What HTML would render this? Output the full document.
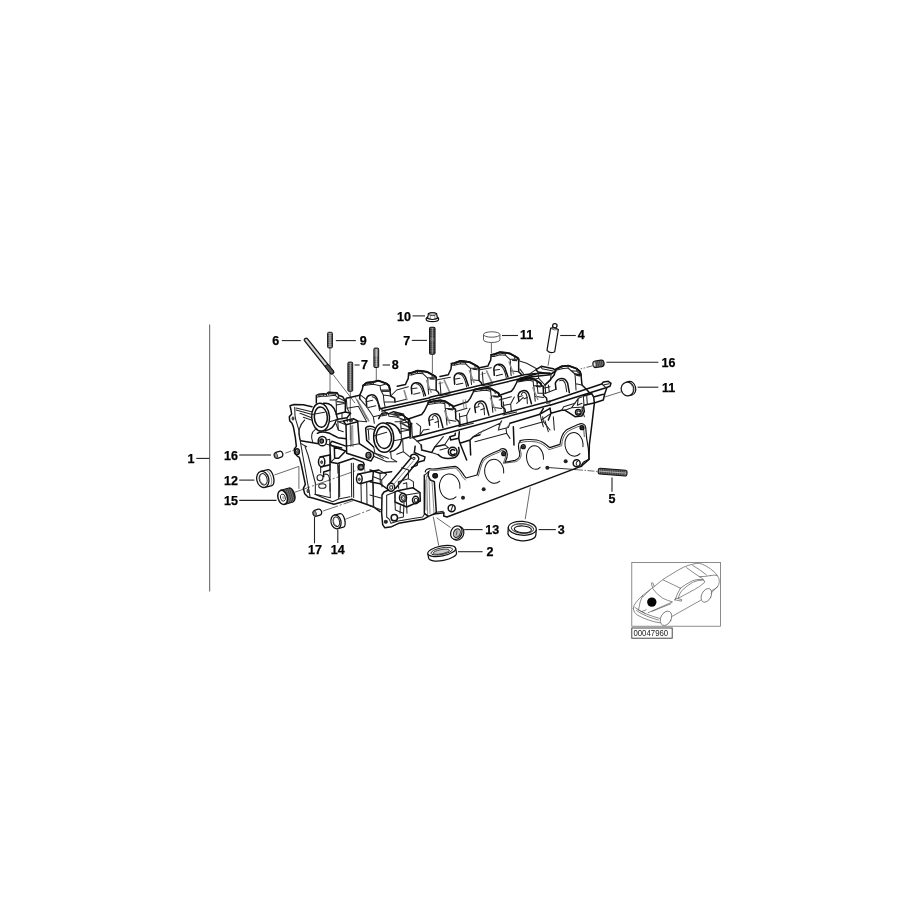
<!DOCTYPE html>
<html>
<head>
<meta charset="utf-8">
<title>Cylinder head</title>
<style>
html,body{margin:0;padding:0;background:#fff;}
body{width:900px;height:900px;overflow:hidden;font-family:"Liberation Sans",sans-serif;}
svg{display:block;position:absolute;left:0;top:0;filter:blur(.45px);}
.lb text{font-family:"Liberation Sans",sans-serif;font-weight:bold;font-size:12.5px;fill:#000;stroke:#000;stroke-width:.25px;}
.ld{stroke:#222;stroke-width:1.1;fill:none;}
.th{stroke:#444;stroke-width:.8;fill:none;}
.o,.of,.m,.mf,.f{vector-effect:non-scaling-stroke;}
.o{stroke:#111;stroke-width:1.5;fill:none;stroke-linejoin:round;stroke-linecap:round;}
.of{stroke:#111;stroke-width:1.3;fill:#fff;stroke-linejoin:round;stroke-linecap:round;}
.k{stroke:#111;stroke-width:1.9;fill:none;stroke-linejoin:round;stroke-linecap:round;vector-effect:non-scaling-stroke;}
.g{stroke:#111;stroke-width:1.15;fill:none;stroke-linejoin:round;stroke-linecap:round;vector-effect:non-scaling-stroke;}
.g2{stroke:#333;stroke-width:.8;fill:none;stroke-linejoin:round;stroke-linecap:round;vector-effect:non-scaling-stroke;}
.p{stroke:#111;stroke-width:1.0;fill:none;stroke-linecap:round;}
.m{stroke:#222;stroke-width:1.05;fill:none;stroke-linejoin:round;stroke-linecap:round;}
.mf{stroke:#222;stroke-width:.8;fill:#fff;stroke-linejoin:round;stroke-linecap:round;}
.f{stroke:#555;stroke-width:.7;fill:none;stroke-linejoin:round;stroke-linecap:round;}
</style>
</head>
<body>
<svg width="900" height="900" viewBox="0 0 900 900">
<rect width="900" height="900" fill="#fff"/>

<!-- ============ bracket line for item 1 ============ -->
<g id="bracket">
<line x1="209.6" y1="324.5" x2="209.6" y2="591.5" stroke="#777" stroke-width="1.2"/>
<line x1="196.3" y1="458.4" x2="209.6" y2="458.4" class="ld"/>
</g>

<!-- ============ thin centre / leader lines ============ -->
<g id="thin">

<path class="th" d="M330,348 V392"/>
<path class="th" d="M350.3,391.5 V440"/>
<path class="th" d="M376.3,367.6 V381"/>
<path class="th" d="M432.4,354.4 V373.4"/>
<path class="th" d="M491.4,342.8 V353.4"/>
<path class="th" d="M549.9,354.4 L548,365.8"/>
<path class="th" d="M333,374.5 L355,403"/>
<path class="th" stroke-dasharray="6 1.5 1.5 1.5" d="M592.3,365.9 L580.6,368.9"/>
<path class="th" d="M620.9,391.9 L605,396.9"/>
<path class="th" stroke-dasharray="6 1.5 1.5 1.5" d="M285.3,453.1 L294,450.2"/>
<path class="th" d="M274.4,475 L298.9,466.4 V488.9"/>
<path class="th" stroke-dasharray="16 2 2 2" d="M295,492.2 L361,468.9"/>
<path class="th" stroke-dasharray="16 2 2 2" d="M322.8,511.1 L353.4,500.6"/>
<path class="th" stroke-dasharray="16 2 2 2" d="M345.4,519.2 L370.6,509.6"/>
<path class="th" d="M436.7,517.8 L450.6,527.6"/>
<path class="th" d="M433.3,516.7 L438.7,545.6"/>
<path class="th" d="M530.3,487.3 L525.2,519.2"/>
<path d="M546.7,467.4 L576,469.6" stroke="#222" stroke-width=".9" fill="none"/>
<path class="th" stroke-dasharray="7 1.5 1.5 1.5" d="M576,469.6 L598,471.5"/>
<!--THIN-->
</g>

<!-- ============ cylinder head ============ -->
<g id="head">
<!--T1S--><g transform="translate(280,380) scale(0.16667)">
<!-- timing flange outer -->
<path class="o" d="M192,160 L140,149 L84,147 L60,154 L66,180 L70,204 L56,220 L58,244 L72,260 L80,280 L92,344 L98,398 L86,414 L88,440 L104,456 L116,464 L128,510 L152,626 L140,650 L148,682 L168,702 L196,708 L324,746 L432,716"/>
<path class="m" d="M88,164 L90,212 L94,236 L112,296 L124,380 L136,450 L180,698"/>
<path class="m" d="M96,168 L190,190 M96,180 L188,206 M120,200 L190,226 M140,224 L188,240"/>
<path class="m" d="M168,450 L212,618 M150,400 L168,450 M124,380 L160,400"/>
<path class="m" d="M208,686 L316,730 L352,714 L420,700 M212,618 L212,686 M300,620 L302,706 M352,510 L352,714 M212,686 L302,706"/>
<ellipse cx="78" cy="231" rx="6" ry="10" fill="#555" stroke="#222" stroke-width=".8" vector-effect="non-scaling-stroke"/>
<ellipse class="o" cx="103" cy="430" rx="13" ry="17"/><ellipse cx="105" cy="431" rx="6" ry="9" fill="#777" stroke="#222" stroke-width=".7" vector-effect="non-scaling-stroke"/>
<ellipse cx="168" cy="666" rx="6" ry="11" fill="#666" stroke="#222" stroke-width=".8" vector-effect="non-scaling-stroke"/>
<!-- cavity arcs -->
<path class="m" d="M148,240 C116,270 106,315 118,354 L124,364"/><path class="o" d="M124,364 L232,382"/>
<path class="m" d="M212,296 C188,312 184,344 196,370"/>
<!-- ring 1 -->
<g transform="rotate(-4 244 223)">
<ellipse class="o" cx="243.6" cy="223" rx="53.5" ry="83.5"/>
<ellipse class="o" cx="245" cy="223" rx="39" ry="61"/>
</g>
<path class="o" d="M262,140 C296,134 326,160 336,198"/>
<path class="o" d="M272,304 C305,298 330,272 338,238"/>
<path class="m" d="M192,207 L267,193"/>
<path class="m" d="M298,250 L338,238"/>
<!-- cap block 1 -->
<path class="o" d="M218,138 L218,92 L232,86 L262,82 L278,86 L290,74 L342,76 L352,92 L376,100 L392,128 L392,192 L338,206"/>
<path class="m" d="M232,86 L234,100 L262,96 L262,82 M278,86 L280,98 L330,92 L342,76 M290,74 L292,88 M330,92 L352,108 L352,92 M352,108 L392,128 M336,120 L352,108 M336,120 L338,150 L392,140 M234,100 L218,104 M262,96 L280,98"/>
<path class="m" d="M338,150 L338,206 M300,120 L336,120"/>
<path d="M340,124 L388,132 L388,140 L340,134Z M236,88 L258,85 L258,92 L236,95Z M294,78 L338,79 L330,89 L294,86Z" fill="#333"/>
<!-- step right of ring1 -->
<path class="o" d="M338,206 L346,236 L402,226 L424,200 L392,192"/>
<path class="m" d="M346,236 L350,300 L380,310 M372,232 L372,200 M402,226 L404,250"/>
<path class="m" d="M336,262 L350,300"/>
<!-- tower -->
<path class="o" d="M380,246 L440,232 L466,246 L476,382 L560,436 L562,458 L546,486 L400,440 L396,268 Z"/>
<path class="o" d="M396,268 L466,250"/>
<path class="m" d="M350,250 L380,246 M350,250 L396,268"/>
<ellipse class="m" cx="426" cy="244" rx="9" ry="4"/>
<path class="f" d="M422,275 L424,400 M436,272 L438,400 M428,275 L430,395"/>
<path class="m" d="M400,396 L476,382"/>
<ellipse class="o" cx="531" cy="452" rx="15" ry="17"/><ellipse cx="532" cy="453" rx="7" ry="9" fill="#888" stroke="#222" stroke-width=".8" vector-effect="non-scaling-stroke"/>
<!-- triangle bracket -->
<path class="o" d="M400,398 L312,367 L299,384 L304,494 L346,501 L440,470 L500,494 L506,512"/>
<path class="o" d="M326,402 L394,426 L352,470 L328,470 Z"/>
<path class="m" d="M299,384 L326,402 M304,494 L328,470"/>
<path class="m" d="M346,501 L348,560 M356,500 L358,700"/>
<!-- arm + upper boss -->
<path class="o" d="M224,320 C250,306 296,314 316,330 L348,346 L396,352"/>
<path class="o" d="M300,392 L370,408"/>
<ellipse class="o" cx="254" cy="367" rx="25" ry="28"/>
<ellipse cx="250" cy="366" rx="11" ry="13" fill="#666" stroke="#111" stroke-width="1.2" vector-effect="non-scaling-stroke"/>
<path class="m" d="M279,360 L298,356 L300,392 L278,384"/>
<!-- mid-left boss -->
<path class="o" d="M240,462 L298,450 M244,522 L300,508 L300,450"/>
<ellipse class="o" cx="250" cy="491" rx="19" ry="30"/><ellipse cx="250" cy="493" rx="6" ry="9" fill="#666" stroke="#222" stroke-width=".8" vector-effect="non-scaling-stroke"/>
<!-- lower left cavities -->
<path class="o" d="M262,552 L300,540 L300,508 M262,552 L262,580"/>
<ellipse class="m" cx="240" cy="586" rx="18" ry="18"/>
<ellipse class="m" cx="254" cy="636" rx="22" ry="14"/>
<path class="m" d="M268,566 C290,560 300,580 296,606"/>
<path class="m" d="M244,522 L244,556 M300,540 L300,668"/>
<!-- dark bolt -->
<circle cx="485" cy="523" r="17" fill="#444" stroke="#111" stroke-width="1.3" vector-effect="non-scaling-stroke"/>
<circle cx="487" cy="524" r="7" fill="#aaa"/>
<!-- lower right boss -->
<path class="o" d="M466,566 L560,546 L592,540 M482,622 L556,602 L560,546"/>
<ellipse class="o" cx="476" cy="593" rx="17" ry="28"/><ellipse cx="476" cy="596" rx="6" ry="8" fill="#777" stroke="#222" stroke-width=".8" vector-effect="non-scaling-stroke"/>
<path class="m" d="M592,540 L640,566 M560,580 L610,600 L640,566 M610,600 L612,640"/>
<!-- vertical lines lower middle -->
<path class="m" d="M428,500 L430,700 M440,500 L442,705 M486,622 L488,735 M556,602 L560,760 M520,612 L522,745"/>
<path class="o" d="M432,716 L488,735 L560,760 L600,790"/>
<path class="f" d="M506,512 L510,560"/>
<!-- front ring -->
<g transform="rotate(-4 622 346)">
<ellipse class="o" cx="622" cy="346" rx="60" ry="88"/>
<ellipse class="o" cx="623" cy="345" rx="46" ry="66"/>
</g>
<path class="o" d="M640,256 C680,256 712,282 722,320"/>
<path class="o" d="M660,432 C696,424 722,394 730,358"/>
<path class="m" d="M564,336 L640,314"/>
<path class="m" d="M682,364 L730,356"/>
<path class="o" d="M592,232 L600,216 L612,200 L640,196 L650,204 L682,190 L740,206 L748,222 L776,236 L786,276 L782,340 L730,356"/>
<path class="m" d="M650,204 L654,218 L700,222 L740,206 M700,222 L748,240 L748,222 M748,240 L786,276 M724,250 L748,240 M724,250 L726,290 L782,300 M726,290 L728,350"/>
<path class="m" d="M612,200 L616,214 L640,210 L640,196 M616,214 L600,216 M690,250 L724,250"/>
<path d="M728,254 L780,282 L780,292 L728,264Z M618,203 L638,200 L638,207 L618,210Z M656,206 L698,196 L734,208 L700,218Z" fill="#333"/>
<!-- front ring left bracket -->
<path class="o" d="M568,286 C556,274 516,272 514,292 L520,362 L562,402"/>
<path class="m" d="M524,296 C540,290 556,292 564,300 M530,300 L534,360"/>
<!-- under front ring -->
<path class="m" d="M664,434 L668,470 L700,490 M736,360 L740,430 L700,445 M740,430 L790,470"/>
<path class="m" d="M562,402 L570,440 L600,450 M562,458 L640,490 L700,490"/>
<path class="m" d="M600,450 L650,470 M560,436 L620,470"/>
<!-- diagonal link rod -->
<path class="o" d="M786,468 L652,628 M824,490 L694,650 M786,468 C778,452 796,440 814,448 C836,458 838,480 824,490"/>
<circle class="m" cx="803" cy="470" r="7"/>
<path class="o" d="M811,397 L806,435 L843,451 L870,461 L865,483 L827,493 L822,512 L790,524"/>
<ellipse class="o" cx="666" cy="644" rx="22" ry="24"/><ellipse class="m" cx="667" cy="645" rx="9" ry="11"/>
<path class="f" d="M800,486 L676,634"/>
<!-- back-row cap 2 (arch) -->
<path class="o" d="M478,112 L480,88 L494,56 L498,34 L520,16 L560,12 L590,4 L640,22 L654,34 L660,60 L664,96 L688,110 L690,132"/>
<path class="o" d="M520,160 L518,118 C522,84 566,78 582,112 L600,170"/><path class="k" d="M498,34 L520,16 L560,12 L590,4 L640,22 L654,34 L660,60"/>
<path class="m" d="M520,16 L524,30 L560,26 L560,12 M524,30 L498,34 M560,26 L600,34 L640,22 M600,34 L604,60 L660,60 M604,60 L620,90 L664,96 M620,90 L624,130 L688,132 M624,130 L630,160"/>
<path d="M608,62 L656,62 L660,72 L612,72Z M526,19 L556,15 L556,22 L526,26Z" fill="#333"/>
<path class="m" d="M553,100 C573,100 590,133 593,160 L597,183"/><path class="m" d="M516,130 L556,122 M530,165 L575,155"/>
<path class="m" d="M478,112 L520,160 M480,88 L518,118"/>
<!-- area between cap1 and cap2 -->
<path class="o" d="M392,128 L398,110 L478,92"/>
<path class="m" d="M398,110 L402,170 L420,200 M402,170 L470,158 M470,158 L520,250"/><path d="M462,118 L534,248" stroke="#8a8a8a" stroke-width="1.7" fill="none" vector-effect="non-scaling-stroke"/><path class="f" d="M452,104 L520,232"/>
<path class="m" d="M520,160 L560,220 L600,212 M560,220 L566,260 M466,246 L520,250 M600,170 L640,196"/>

<!-- rail near top right -->
<path class="o" d="M600,172 L900,106 M612,186 L900,122"/>
<path class="m" d="M690,132 L760,116 M664,96 L700,60 L770,40"/>
</g>
<!--T1E-->
<!--T2S--><g transform="translate(400,330) scale(0.16667)">
<defs>
<g id="bcap">
<path class="o" d="M-69,77 L-19,67 L-16,59 L-3,32 L0,0 L16,-3 L53,-16 L85,-13 L112,-8 L141,8 L160,19 L165,27 L165,101 L179,115 L181,123"/>
<path class="k" d="M0,0 L16,-3 L53,-16 L85,-13 L112,-8 L141,8 L160,19 L165,27"/>
<path class="o" d="M19,123 L16,85 C19,53 64,43 83,80 L101,133"/>
<path class="m" d="M45,62 C64,62 77,85 85,112 L91,139"/>
<path class="m" d="M16,-3 L18,10 L53,0 L53,-16 M53,0 L85,2 L85,-13 M85,2 L112,27 L165,27 M0,10 L18,10 M112,27 L115,35 L117,96 L165,101 M141,8 L141,20 M117,96 L120,125"/>
<path class="m" d="M16,93 L50,88 M30,125 L68,117"/>
<path d="M126,28 L156,30 L156,39 L126,37Z M22,-3 L48,-11 L48,-5 L22,3Z M58,-12 L82,-10 L82,-4 L58,-6Z" fill="#222"/>
<path d="M106,40 L136,116" stroke="#888" stroke-width="1.4" fill="none" vector-effect="non-scaling-stroke"/>
</g>
<g id="fcap">
<path class="o" d="M-120,99 L-40,72 L-24,51 L-8,19 L0,0 L35,-8 L72,-13 L99,-8 L125,8 L147,21 L152,35 L163,40 L165,99 L184,115 L187,131"/>
<path class="k" d="M0,0 L35,-8 L72,-13 L99,-8 L125,8 L147,21 L152,35"/>
<path class="o" d="M8,136 L3,99 C8,67 56,51 72,93 L88,152"/>
<path class="m" d="M24,93 C29,72 51,72 59,104 L62,150"/>
<path class="m" d="M35,-8 L37,6 L72,2 L72,-13 M72,2 L99,8 L99,-8 M99,8 L101,35 L163,40 M0,12 L37,6 M101,35 L104,45 L109,104 L165,112 M125,8 L126,22 M109,104 L112,135"/>
<path class="m" d="M4,108 L30,100 M40,120 L62,112"/>
<path d="M115,34 L147,38 L147,48 L115,44Z M40,-6 L68,-10 L68,-3 L40,1Z M76,-10 L96,-6 L96,1 L76,-3Z" fill="#222"/>
<path d="M96,46 L130,128" stroke="#888" stroke-width="1.4" fill="none" vector-effect="non-scaling-stroke"/>
</g>
</defs>
<!-- back row caps 3,4,5 -->
<use href="#bcap" x="52" y="260"/>
<use href="#bcap" x="309" y="202"/>
<use href="#bcap" x="547" y="149"/>
<!-- flats between back-row caps -->
<path class="m" d="M218,300 L302,284 M238,395 L300,382 M240,310 L246,392"/>
<path d="M264,298 L300,378" stroke="#8a8a8a" stroke-width="1.6" fill="none" vector-effect="non-scaling-stroke"/><path class="f" d="M232,322 L258,316"/>
<path class="m" d="M470,240 L548,226 M492,335 L556,322 M494,252 L500,334"/>
<path d="M518,242 L554,320" stroke="#8a8a8a" stroke-width="1.6" fill="none" vector-effect="non-scaling-stroke"/><path class="f" d="M486,266 L512,260"/>
<path class="m" d="M712,185 L760,200 L820,232 M720,235 L740,262"/>
<path d="M24,360 L42,422" stroke="#8a8a8a" stroke-width="1.6" fill="none" vector-effect="non-scaling-stroke"/>
<!-- rail 1 (between rows) -->
<path class="o" d="M180,403 L745,269 L800,262 L900,258"/>
<path class="o" d="M180,420 L752,285 L900,268"/>
<!-- front row caps 2,3,4 -->
<use href="#fcap" x="170" y="435"/>
<use href="#fcap" x="445" y="359"/>
<use href="#fcap" transform="translate(706,300) scale(0.94)"/>
<!-- flats between front-row caps -->
<path class="m" d="M330,490 L402,470 M352,580 L440,560 M356,500 L362,578"/>
<path class="m" d="M360,520 L400,512 L420,470 M400,512 L404,560"/>
<path class="f" d="M378,420 L384,470 M392,418 L398,466"/>
<path class="m" d="M595,420 L668,400 M618,510 L700,492 M620,430 L626,508"/>
<path class="m" d="M626,452 L664,444 L686,402 M664,444 L668,490 M700,440 L740,404"/>
<path class="m" d="M860,350 L900,340 M880,440 L900,436"/>
<!-- left of capF2 : small cap fragments -->
<path class="o" d="M0,505 L30,520 L50,540 L56,600 L70,560"/>
<path class="m" d="M0,560 L52,552 M0,540 L40,536 M0,610 L56,600 M56,600 L60,650"/>
<path class="m" d="M70,560 L74,640 L120,632 L140,600 L175,595 M120,632 L124,580 L100,560"/>
<!-- rail 2 (front) -->
<path class="o" d="M78,645 L880,432 L900,428"/>
<path class="o" d="M104,668 L900,450"/>
<path class="m" d="M78,645 L104,668 M60,650 L78,645"/>
<!-- below rail 2 : saw-tooth casting -->
<path class="o" d="M128,690 L130,720 L190,735 L210,700 L268,688 M300,640 L330,632 L332,620 M300,640 L304,660 L352,650 L356,610"/>
<path class="m" d="M210,700 L260,640 M268,688 L300,640 M190,735 L230,748 M130,720 L126,690 L104,668"/>
<path class="o" d="M352,650 L360,680 L420,660 L440,640 L480,628 M360,680 L400,780 M420,660 L424,750"/>
<path class="m" d="M440,640 L470,620 L600,560 L610,545 M600,560 L590,600 L650,585 L660,560"/>
<path class="m" d="M450,670 L640,620 L660,650 M640,620 L636,590"/>
<path class="o" d="M660,560 L700,548 L840,505 L900,470 M840,505 L860,470 M680,580 L684,690"/>
<path class="m" d="M720,590 L860,550 L900,600 M860,550 L856,520"/>
<path class="f" d="M590,600 L610,545 M636,590 L660,560 M480,628 L500,600"/>
<!-- tensioner boss under rail 2 -->
<path class="o" d="M230,748 C250,770 290,775 330,765 C350,755 360,730 352,705"/>
<ellipse class="o" cx="316" cy="730" rx="26" ry="26"/>
<path class="o" d="M328,722 C318,712 302,718 302,734 C304,750 322,752 330,742"/>
<path class="m" d="M268,688 L290,706 M240,720 L290,706"/>
<!-- exhaust gasket outline (upper, ports 1-3) -->
<path class="g" d="M152,852 C150,838 170,828 190,834 C215,836 250,826 330,818 C352,822 368,846 384,872 L396,888 L462,870 C472,840 478,800 498,772 C520,752 560,736 596,722 C612,704 640,712 642,736 C650,760 636,780 630,794 L690,782 C716,774 722,750 716,728 C708,700 712,676 722,666"/>
<path class="g2" d="M172,850 C172,842 182,838 196,842 C220,844 260,836 328,828 C345,832 360,856 374,880 L392,900 M470,876 C480,846 486,806 504,780 C526,760 566,744 598,732 C606,718 630,720 634,738 C638,758 628,776 620,800 L694,790 C724,780 732,752 724,728 C720,712 724,702 728,694"/>
<circle class="o" cx="210" cy="874" r="12"/><circle cx="210" cy="874" r="7.5" fill="#222"/>
<circle class="o" cx="622" cy="742" r="11"/><circle cx="622" cy="742" r="7.5" fill="#222"/>
<circle class="o" cx="740" cy="700" r="11"/><circle cx="740" cy="700" r="7.5" fill="#222"/>
<!-- port 2 and 3 arcs -->
</g>
<!--T2E-->
<!--T3S--><g transform="translate(520,330) scale(0.16667)">
<!-- lifter bore cap -->
<path class="o" d="M96,238 L128,218 L200,232 L216,246 L186,264 L108,252 Z"/>
<path class="m" d="M108,252 L112,290 L60,300 M186,264 L184,300 L150,330 M128,218 L132,232 L200,246 M60,262 L96,238"/>
<path class="m" d="M112,290 L150,330 L154,380 M100,300 L108,380 L154,380"/>
<!-- last back-row cap -->
<path class="o" d="M150,330 L180,300 L205,270 L215,236 L250,218 L290,214 L340,232 L360,250 L366,270"/>
<path class="o" d="M330,264 L366,270 L372,330 L392,350 L420,380"/><path class="k" d="M215,236 L250,218 L290,214 L340,232 L360,250 L366,270"/>
<path class="o" d="M216,356 L212,320 C225,284 270,280 286,320 L296,376"/>
<path class="m" d="M238,304 C255,296 268,304 274,330 L280,370"/>
<path class="m" d="M250,218 L252,232 L288,228 L290,214 M252,232 L215,242 M288,228 L330,264 M340,232 L342,248 L366,270 M310,244 L342,248"/>
<path class="m" d="M330,264 L334,322 L372,330 M334,322 L336,360"/>
<path d="M336,266 L362,272 L362,281 L336,275Z" fill="#222"/>
<path class="m" d="M154,380 L216,356 M170,330 L176,372"/>
<!-- rail 1 tail (behind) -->
<path class="o" d="M0,290 L96,264 M0,306 L60,290"/>
<!-- rail 2 -->
<path class="o" d="M180,428 L490,324 L500,312 L530,308 L546,320 L540,338 L516,346 L180,452"/>
<path class="m" d="M490,324 L516,346 M500,330 L534,322"/>
<!-- bracket under rail end -->
<path class="o" d="M380,396 L430,382 M384,452 L450,436 L500,420 L508,384 L520,350"/>
<path class="o" d="M430,382 L442,402 L500,386 M442,402 L446,436"/>
<path class="m" d="M380,396 L384,452 L372,474 M400,392 L404,446"/>
<!-- right-end edge -->
<path class="o" d="M446,440 L432,560 L416,690 L414,776"/>
<path class="m" d="M372,474 L386,520"/>
<!-- things under rail 2 -->
<path class="o" d="M270,482 L300,500 L330,520 L370,516 L386,490 L382,462"/>
<circle class="o" cx="350" cy="494" r="17"/><path class="m" d="M358,488 C350,482 340,488 342,498 C346,506 356,504 360,498"/>
<path class="m" d="M270,482 L310,466 L382,462 M310,466 L350,410 L372,400 M350,410 L344,452 L372,440"/>
<path class="o" d="M180,470 L186,500 L250,482 L270,482 M186,500 L170,540"/>
<path class="m" d="M120,500 L128,540 L186,500 M128,540 L140,580 M200,520 L206,600 M150,545 L170,610"/>
<path class="m" d="M250,482 L262,460 L330,440"/>
<!-- gasket right part -->
<path class="g" d="M0,664 C30,656 60,654 100,660 C140,668 160,690 178,706 L240,686 C244,650 250,624 276,602 C300,586 330,576 352,566 C370,556 392,566 394,584 L400,650 L410,710 L414,776 L384,790 C372,800 370,812 362,820"/>
<path class="g2" d="M0,676 C30,668 60,666 98,672 C136,680 156,702 174,718 L250,694 C252,660 260,634 282,612 C304,596 334,586 354,578 C366,572 380,576 382,590 L386,640"/>
<circle class="o" cx="372" cy="586" r="11"/><circle cx="372" cy="586" r="7.5" fill="#222"/>
<!-- port 4 -->
<!-- port 3 -->
<!-- holes -->
<circle class="o" cx="340" cy="800" r="21"/><path class="m" d="M346,788 C336,790 334,806 342,812"/>
<circle cx="274" cy="788" r="12" fill="#222"/><circle cx="164" cy="826" r="12" fill="#222"/>
<!-- bottom edge -->
<path class="o" d="M366,818 L414,776"/>
</g>
<!--T3E-->
<!--T4S--><g transform="translate(370,440) scale(0.16667)">
<!-- lower chain case outline -->
<path class="o" d="M112,300 L84,312 L72,330 L70,440 L76,508 L88,526 L130,520 L172,500 L250,486 L320,476 L350,458 L384,444"/>
<path class="m" d="M100,332 L100,462 L116,476 M100,332 L150,312 M116,476 L126,500 L170,486 L250,472 L316,462 L330,440"/>
<circle class="m" cx="95" cy="491" r="9"/><circle class="m" cx="96" cy="492" r="4"/>
<circle class="o" cx="146" cy="466" r="19"/>
<path class="m" d="M166,470 L200,462 L204,380 M180,440 L182,395"/>
<!-- tensioner block -->
<path class="o" d="M150,312 L166,304 L256,286 L300,316 L302,366 L220,402 L150,372 Z"/>
<path class="m" d="M166,304 L216,330 L300,316 M216,330 L220,402"/>
<ellipse class="o" cx="198" cy="346" rx="21" ry="26"/><ellipse class="m" cx="200" cy="348" rx="11" ry="15"/>
<path class="f" d="M186,334 L208,360 M192,328 L214,352 M184,346 L204,368"/>
<ellipse class="o" cx="274" cy="360" rx="19" ry="22"/><ellipse class="m" cx="276" cy="362" rx="10" ry="12"/>
<path class="m" d="M150,372 L152,420 L200,440 M220,402 L222,440"/>
<!-- upper-left leftovers (under front ring / right of link rod) -->
<path class="o" d="M0,250 L60,262 L112,300 M0,180 L60,200 L130,190"/>
<path class="m" d="M0,396 L70,420 M20,256 L22,400 M0,330 L70,350 M60,200 L62,262"/>
<path class="m" d="M170,250 L230,232 L260,250 L262,286 M230,232 L232,180 L190,166 M170,250 L172,290"/>
<path class="m" d="M200,262 L220,256 L222,290"/>
<!-- right wall / vertical lines left of plate -->
<path class="o" d="M326,212 L326,440 L350,458"/>
<path class="f" d="M340,216 L346,448 M354,230 L360,440"/><path class="m" d="M326,212 L352,190"/>
<path class="f" d="M332,240 L336,420"/>
<!-- plate left edge + bottom-left -->
<path class="o" d="M352,190 L348,214 L362,240 L386,250 L398,434 L384,444 L444,436 L442,456 L462,462 L1270,157"/>
<path class="f" d="M372,246 L384,436"/><path class="m" d="M398,434 L440,428"/>
<circle class="o" cx="392" cy="214" r="12"/><circle cx="392" cy="214" r="7.5" fill="#222"/>
<!-- port 1 -->
<!-- dowel hole with slot -->
<circle class="o" cx="490" cy="410" r="21"/><path class="m" d="M496,396 L486,424"/>
<circle cx="558" cy="346" r="12" fill="#222"/><circle cx="682" cy="296" r="12" fill="#222"/>
<!-- port 2 lower arc (remaining) -->
</g>
<!--T4E-->
<!-- ports -->
<path class="p" transform="translate(449.7,486.6) rotate(-5)" d="M9.98,2.62 A10.2,12.6 0 1 0 5.41,10.69"/>
<path class="p" transform="translate(494.2,471.3) rotate(-5)" d="M9.29,2.49 A9.5,12 0 1 0 4.75,10.39"/>
<path class="p" transform="translate(535,457.5) rotate(-5)" d="M8.22,2.45 A8.4,11.8 0 1 0 4.20,10.22"/>
<path class="p" transform="translate(574,444.4) rotate(-5)" d="M8.69,3.05 A9,11.8 0 1 0 5.16,9.67"/>
<!--HEAD-->
</g>

<!-- ============ small parts ============ -->
<g id="parts">
<!-- part 16 (left dowel) -->
<g transform="translate(278.5,454.8) rotate(-17)">
<rect x="-4.4" y="-3.1" width="8.8" height="6.2" rx="2.6" ry="3.1" fill="#fff" stroke="#111" stroke-width="1.3"/>
<ellipse cx="-2.6" cy="0" rx="1.5" ry="2.6" fill="#999" stroke="#222" stroke-width=".7"/>
</g>
<!-- part 17 (dowel) -->
<g transform="translate(317.3,512.7) rotate(-17)">
<rect x="-4.4" y="-3.1" width="8.8" height="6.2" rx="2.6" ry="3.1" fill="#fff" stroke="#111" stroke-width="1.3"/>
<ellipse cx="-2.6" cy="0" rx="1.5" ry="2.6" fill="#999" stroke="#222" stroke-width=".7"/>
</g>
<!-- part 12 (sleeve) -->
<g transform="translate(262.8,479.4) rotate(-14)">
<path class="of" d="M0,-8.2 L7.4,-8.2 A3.6,8.2 0 0 1 7.4,8.2 L0,8.2 Z"/>
<ellipse class="of" cx="0" cy="0" rx="6" ry="8.2"/>
<ellipse class="m" cx="0.4" cy="0" rx="3.9" ry="5.8"/>
<path class="f" d="M-1.5,-4.5 A3,5 0 0 0 -0.5,4.6"/>
<path class="f" d="M8.2,-7.6 A3.4,7.8 0 0 1 8.2,7.6" transform="translate(-2.2,0)"/>
</g>
<!-- part 14 (sleeve) -->
<g transform="translate(336,521.9) rotate(-14)">
<path class="of" d="M0,-7 L6,-7 A3,7 0 0 1 6,7 L0,7 Z"/>
<ellipse class="of" cx="0" cy="0" rx="5" ry="7"/>
<ellipse class="m" cx="0.4" cy="0" rx="3.2" ry="4.9"/>
<path class="f" d="M-1.2,-3.6 A2.4,4 0 0 0 -0.4,3.8"/>
</g>
<!-- part 15 (threaded plug) -->
<g transform="translate(282.6,497.4) rotate(-16)">
<path d="M0,-7.2 L8.8,-7.2 A3.6,7.2 0 0 1 8.8,7.2 L0,7.2 Z" fill="#3a3a3a" stroke="#111" stroke-width="1.3" stroke-linejoin="round"/>
<path d="M4.6,-7 V7 M6.4,-7 V7 M8.2,-7 V7 M10,-6 V6" stroke="#999" stroke-width=".55" fill="none"/>
<path d="M3,-7 A3,7 0 0 1 3,7" stroke="#777" stroke-width=".5" fill="none"/>
<ellipse cx="0" cy="0" rx="4.6" ry="7.2" fill="#fff" stroke="#111" stroke-width="1.5"/>
<ellipse cx="0.2" cy="0.3" rx="2.4" ry="3.6" fill="#fff" stroke="#222" stroke-width=".9"/>
<ellipse cx="0.6" cy="0.5" rx="1" ry="1.6" fill="#aaa" stroke="none"/>
</g>
<!-- rod 6 -->
<g transform="translate(305.6,339.4) rotate(51.2)">
<rect x="-1" y="-1.8" width="44.6" height="3.6" rx="1.6" fill="#bbb" stroke="#111" stroke-width="1.2"/>
<rect x="33" y="-1.9" width="10.6" height="3.8" rx="1.4" fill="#555" stroke="#111" stroke-width="1"/>
<line x1="1" y1="0" x2="33" y2="0" stroke="#eee" stroke-width=".7"/>
</g>
<!-- stud 9 -->
<g>
<rect x="327.6" y="332.3" width="4.8" height="15.6" rx="1" fill="#888" stroke="#111" stroke-width="1"/>
<path d="M327.6,334.5h4.8M327.6,336.3h4.8M327.6,338.1h4.8M327.6,339.9h4.8M327.6,341.7h4.8M327.6,343.5h4.8M327.6,345.3h4.8" stroke="#222" stroke-width=".6"/>
<line x1="330" y1="333" x2="330" y2="347" stroke="#ccc" stroke-width="1"/>
</g>
<!-- stud 7 (middle) -->
<g>
<rect x="347.9" y="362.1" width="4.8" height="29.2" rx="1" fill="#777" stroke="#111" stroke-width="1"/>
<path d="M347.9,364.5h4.8M347.9,366.3h4.8M347.9,368.1h4.8M347.9,369.9h4.8M347.9,371.7h4.8M347.9,373.5h4.8M347.9,375.3h4.8M347.9,377.1h4.8M347.9,378.9h4.8M347.9,380.7h4.8M347.9,382.5h4.8M347.9,384.3h4.8M347.9,386.1h4.8M347.9,387.9h4.8M347.9,389.7h4.8" stroke="#222" stroke-width=".6"/>
<line x1="350.3" y1="363" x2="350.3" y2="390.5" stroke="#bbb" stroke-width=".9"/>
</g>
<!-- stud 8 -->
<g>
<rect x="373.9" y="348.1" width="4.8" height="19.4" rx="1" fill="#888" stroke="#111" stroke-width="1"/>
<path d="M373.9,357h4.8M373.9,358.8h4.8M373.9,360.6h4.8M373.9,362.4h4.8M373.9,364.2h4.8M373.9,366h4.8" stroke="#222" stroke-width=".6"/>
<line x1="376.3" y1="349" x2="376.3" y2="366.8" stroke="#ccc" stroke-width="1"/>
</g>
<!-- stud 7 (top) -->
<g>
<rect x="429.6" y="327.2" width="5.4" height="27" rx="1.2" fill="#666" stroke="#111" stroke-width="1.1"/>
<path d="M429.6,329.5h5.4M429.6,331.3h5.4M429.6,333.1h5.4M429.6,334.9h5.4M429.6,336.7h5.4M429.6,342h5.4M429.6,343.8h5.4M429.6,345.6h5.4M429.6,347.4h5.4M429.6,349.2h5.4M429.6,351h5.4M429.6,352.6h5.4" stroke="#1a1a1a" stroke-width=".65"/>
<line x1="432.3" y1="328" x2="432.3" y2="353.5" stroke="#aaa" stroke-width=".9"/>
</g>
<!-- nut 10 -->
<g>
<ellipse cx="432.4" cy="319" rx="6.3" ry="2.6" fill="#fff" stroke="#111" stroke-width="1.2"/>
<path d="M427.6,318.4 L428.4,313.6 Q432.4,311.4 436.6,313.6 L437.4,318.4 Q432.4,320.6 427.6,318.4Z" fill="#fff" stroke="#111" stroke-width="1.2" stroke-linejoin="round"/>
<ellipse cx="432.5" cy="314.2" rx="3.5" ry="1.5" fill="#bbb" stroke="#222" stroke-width=".8"/>
<path d="M430.4,315.6 L430.1,319.4 M434.8,315.6 L435.1,319.4" stroke="#444" stroke-width=".6" fill="none"/>
</g>
<!-- part 11 (top cap) -->
<g>
<path d="M483.5,334.5 V339.8 A8.2,2.7 0 0 0 499.9,339.8 V334.5" fill="#fff" stroke="#444" stroke-width=".9"/>
<ellipse cx="491.7" cy="334.5" rx="8.2" ry="2.7" fill="#fff" stroke="#444" stroke-width=".9"/>
</g>
<!-- part 4 (HVA tube) -->
<g transform="translate(554.6,328.4) rotate(9.4)">
<circle cx="-0.2" cy="-2.6" r="2.2" fill="#fff" stroke="#111" stroke-width="1.3"/>
<path d="M-3.9,0.4 Q0,-1.2 3.9,0.4 L3.9,23 Q0,26.2 -3.9,23 Z" fill="#fff" stroke="#111" stroke-width="1.2" stroke-linejoin="round"/>
<path d="M-3.9,0.6 Q0,2.4 3.9,0.6" fill="none" stroke="#333" stroke-width=".7"/>
</g>
<!-- part 16 (right, threaded dowel) -->
<g transform="translate(598.5,363.8) rotate(-9)">
<rect x="-5.6" y="-3.3" width="11.2" height="6.6" rx="2.6" ry="3.3" fill="#777" stroke="#111" stroke-width="1.2"/>
<path d="M-2.2,-3V3M-0.4,-3V3M1.4,-3V3M3.2,-3V3" stroke="#222" stroke-width=".6"/>
<ellipse cx="-3.9" cy="0" rx="1.4" ry="2.6" fill="#ddd" stroke="#333" stroke-width=".6"/>
</g>
<!-- part 11 (right cap) -->
<g transform="translate(628.3,388.8) rotate(-14)">
<path d="M0,-6.9 L2.2,-6.9 A5.2,6.9 0 0 1 2.2,6.9 L0,6.9Z" fill="#fff" stroke="#111" stroke-width="1.2" stroke-linejoin="round"/>
<ellipse cx="-0.8" cy="0" rx="6.3" ry="6.9" fill="#fff" stroke="#111" stroke-width="1.2"/>
<path d="M3.6,-3.4 A3,5 0 0 1 3.6,3.6" fill="none" stroke="#999" stroke-width=".6"/>
</g>
<!-- stud 5 -->
<g transform="translate(612.6,472.1) rotate(4.5)">
<rect x="-14.4" y="-2.9" width="28.8" height="5.8" rx="1.6" fill="#777" stroke="#111" stroke-width="1.1"/>
<path d="M-12,-2.7V2.7M-10.2,-2.7V2.7M-8.4,-2.7V2.7M-6.6,-2.7V2.7M-4.8,-2.7V2.7M-3,-2.7V2.7M-1.2,-2.7V2.7M0.6,-2.7V2.7M2.4,-2.7V2.7M4.2,-2.7V2.7M6,-2.7V2.7M7.8,-2.7V2.7M9.6,-2.7V2.7M11.4,-2.7V2.7" stroke="#1a1a1a" stroke-width=".6"/>
<line x1="-13.5" y1="0" x2="13.5" y2="0" stroke="#bbb" stroke-width=".9"/>
</g>
<!-- seal 3 -->
<g transform="translate(522.3,528.3) rotate(4)">
<path d="M-14,0 V5.6 A14,6.9 0 0 0 14,5.6 V0" fill="#fff" stroke="#111" stroke-width="1.25" stroke-linejoin="round"/>
<ellipse cx="0" cy="0" rx="14" ry="6.9" fill="#fff" stroke="#111" stroke-width="1.25"/>
<ellipse cx="0.2" cy="0.2" rx="11.2" ry="4.9" fill="#fff" stroke="#222" stroke-width=".9"/>
<ellipse cx="0.6" cy="1" rx="8.6" ry="3.4" fill="#fff" stroke="#111" stroke-width="1.1"/>
<path d="M-10.8,-1.2 A11,4.8 0 0 1 10.6,-1.6" fill="none" stroke="#555" stroke-width=".7" transform="translate(0,1)"/>
</g>
<!-- part 13 -->
<g transform="translate(456.7,532.8) rotate(24)">
<path d="M0,-7 L1.6,-7 A5.4,7 0 0 1 1.6,7 L0,7Z" fill="#fff" stroke="#111" stroke-width="1.2"/>
<ellipse cx="-0.4" cy="0" rx="5.5" ry="7" fill="#fff" stroke="#111" stroke-width="1.25"/>
<ellipse cx="0.3" cy="0.2" rx="3.3" ry="4.5" fill="#bbb" stroke="#222" stroke-width=".9"/>
<path d="M-0.6,-2 L0.6,2.6" stroke="#444" stroke-width=".7"/>
</g>
<!-- seal 2 -->
<g transform="translate(441.7,551) rotate(-11)">
<path d="M-14.2,0 V4.6 A14.2,4.9 0 0 0 14.2,4.6 V0" fill="#fff" stroke="#111" stroke-width="1.25" stroke-linejoin="round"/>
<ellipse cx="0" cy="0" rx="14.2" ry="4.9" fill="#fff" stroke="#111" stroke-width="1.25"/>
<ellipse cx="0" cy="0.2" rx="11" ry="3.3" fill="#fff" stroke="#222" stroke-width=".9"/>
<ellipse cx="-0.6" cy="0.6" rx="8.4" ry="2.1" fill="#ccc" stroke="#222" stroke-width=".8"/>
</g>
<!--PARTS-->
</g>

<!-- ============ labels ============ -->
<g class="lb" id="labels">
<text x="187.6" y="463.4">1</text>
<text x="224" y="460.2">16</text>
<text x="224" y="484.8">12</text>
<text x="224" y="504.8">15</text>
<text x="308" y="554.3">17</text>
<text x="330.8" y="554.3">14</text>
<text x="272.3" y="344.8">6</text>
<text x="359.8" y="344.8">9</text>
<text x="361" y="369.3">7</text>
<text x="391.8" y="369.3">8</text>
<text x="397" y="320.9">10</text>
<text x="403.3" y="344.8">7</text>
<text x="520" y="339.4">11</text>
<text x="577.8" y="339.4">4</text>
<text x="661.6" y="367.4">16</text>
<text x="662" y="392.2">11</text>
<text x="608.6" y="502.6">5</text>
<text x="557.8" y="533.9">3</text>
<text x="485.2" y="534.2">13</text>
<text x="486.4" y="555.9">2</text>
</g>

<!-- ============ leader lines (label -> part) ============ -->
<g id="leaders">
<line class="ld" x1="239.2" y1="455" x2="271" y2="455"/>
<line class="ld" x1="239.2" y1="480.1" x2="254.4" y2="480.1"/>
<line class="ld" x1="239.2" y1="500.4" x2="276.5" y2="500.4"/>
<line class="ld" x1="314.5" y1="517" x2="314.5" y2="543.3"/>
<line class="ld" x1="337.8" y1="529.4" x2="337.8" y2="543"/>
<line class="ld" x1="281.8" y1="340.6" x2="300.8" y2="340.6"/>
<line class="ld" x1="335.8" y1="340.6" x2="355.8" y2="340.6"/>
<line class="ld" x1="354.5" y1="365" x2="359.6" y2="365"/>
<line class="ld" x1="382.6" y1="365" x2="390" y2="365"/>
<line class="ld" x1="412.5" y1="315.9" x2="425" y2="315.9"/>
<line class="ld" x1="411.8" y1="340.4" x2="427" y2="340.4"/>
<line class="ld" x1="502" y1="335.5" x2="518" y2="335.5"/>
<line class="ld" x1="560.2" y1="335.5" x2="575.8" y2="335.5"/>
<line class="ld" x1="606.4" y1="362.2" x2="658.4" y2="362.2"/>
<line class="ld" x1="637.6" y1="387.2" x2="658.4" y2="387.2"/>
<line class="ld" x1="612" y1="477.6" x2="612" y2="491.8"/>
<line class="ld" x1="538.6" y1="529.6" x2="555.8" y2="529.6"/>
<line class="ld" x1="464.2" y1="529.6" x2="482.6" y2="529.6"/>
<line class="ld" x1="458" y1="551.7" x2="482.6" y2="551.7"/>
</g>

<!-- ============ vehicle thumbnail ============ -->
<g id="thumb">
<rect x="631.8" y="562.4" width="88.6" height="63.8" fill="#fff" stroke="#666" stroke-width=".75"/>
<rect x="631.8" y="628" width="40.4" height="10.2" fill="#fff" stroke="#333" stroke-width=".9"/>
<line x1="632" y1="627.1" x2="672" y2="627.1" stroke="#999" stroke-width=".6" stroke-dasharray="1.5 1"/>
<text x="633.4" y="636.2" font-family="Liberation Sans, sans-serif" font-size="8.4" fill="#222" textLength="34.8" lengthAdjust="spacingAndGlyphs">00047960</text>
<g fill="none" stroke="#555" stroke-width=".68" stroke-linejoin="round" stroke-linecap="round">
<!-- outer body -->
<path d="M633.2,608.6 Q633.6,605 636,602.4 Q639,598.5 642.7,595.4 L649.9,589.9 L652.7,587.7 L663.2,579.3 L673.8,572.7 Q679,569.5 683.8,567.1 Q688,565.2 692.7,564.2 Q696.5,563.2 699.3,563.3 Q703,564.2 706,566 Q710.5,568.5 713.8,571.6 Q716,573.4 717.1,575.4 Q719.6,578.4 719.3,581.6 Q719,584.8 717.7,586.6 Q715.6,588.8 711.8,590.6"/>
<path d="M700.6,600.3 L672.4,616.2"/>
<path d="M660.2,622.8 Q653.5,622 648.2,619.9 Q642,617.8 637.1,614.9 Q633.6,612.5 633.2,608.6"/>
<!-- wheels -->
<ellipse cx="706.4" cy="595.4" rx="4.7" ry="7.3" transform="rotate(27 706.4 595.4)" fill="#fff"/>
<ellipse cx="666" cy="618.3" rx="5.2" ry="7.6" transform="rotate(27 666 618.3)" fill="#fff"/>
<!-- bumper / grille band -->
<path d="M634.9,607.4 Q640,611.2 646,613.8 Q652.5,616.6 659.6,618.4"/>
<path d="M636.4,610.6 Q642,614.4 648,616.6 Q653.5,618.8 658.4,620"/>
<path d="M638,609.6 L645,613.4 M646.2,609.8 L641.6,611.6"/>
<!-- hood -->
<path d="M672.1,602.1 L648.2,612.7"/>
<path d="M670.8,603.8 Q660,608 652,611.4"/>
<path d="M642.7,595.4 Q639.5,602 638.6,609.4"/>
<path d="M649.9,589.9 Q645,594 643,597"/>
<!-- windshield -->
<path d="M652.7,588.6 Q656.5,594.2 662.7,598.2 Q667.5,600.6 672.1,601.8"/>
<path d="M663.2,579.9 L680.4,588.2"/>
<path d="M680.4,588.2 Q677,594 674.9,600.2"/>
<!-- roof right edge + side window -->
<path d="M680.4,588.2 Q686,584 692.7,580.6 Q698,578.8 702.6,579.6"/>
<path d="M678.2,598 Q679.4,593.5 681.8,590.6 Q687,585.6 692.7,582.3 Q698,580 702.7,580 Q705.6,580.6 704.3,582.7 Q700,586.5 694.9,589.3 Z"/>
<path d="M675,599.8 L681.4,601.2 L681.8,599.6 L676.4,598.2 Z"/>
<!-- rear window + trunk -->
<path d="M686.6,567.7 Q693,572.5 699.3,576.6 Q704.5,576.8 710.4,575.6"/>
<path d="M692.6,565.4 Q700,569.5 706.4,574.8"/>
<path d="M699.3,576.6 Q703,578.4 703.8,579.8"/>
<path d="M710.4,575.6 Q714,574.6 717.1,575.4"/>
<path d="M717.7,586.6 Q714,590 711.2,593"/>
<!-- left mirror -->
<path d="M652.7,587.7 Q651.2,585 651.6,582.8 Q652.6,582.2 653.2,583.6 L654.2,586.4"/>
</g>
<circle cx="651.8" cy="602.1" r="4.7" fill="#050505"/>
<!--THUMB-->
</g>
</svg>
</body>
</html>
